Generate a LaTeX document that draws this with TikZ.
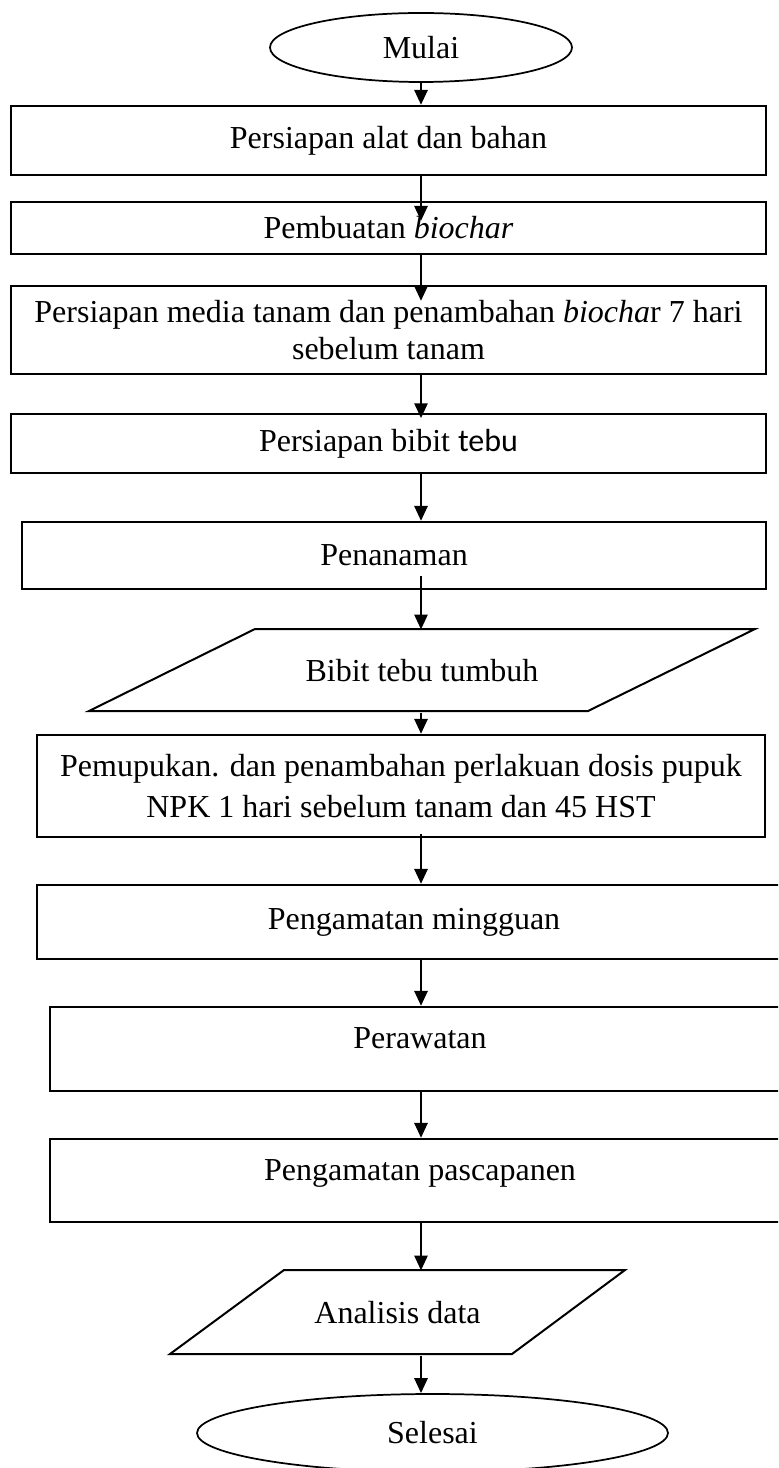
\documentclass[tikz,border=0pt]{standalone}
\usepackage{fontspec}
\setmainfont{Liberation Serif}
\newfontfamily\carl{Carlito}
\usetikzlibrary{arrows.meta,shapes.geometric}
\begin{document}
\begin{tikzpicture}[x=0.375pt,y=-0.375pt,
  txt/.style={font=\fontsize{12}{14}\selectfont},
  box/.style={draw,line width=0.85pt,rectangle,inner sep=0pt,align=center,txt},
  ell/.style={draw,line width=0.65pt,ellipse,inner sep=0pt,txt},
  para/.style={inner sep=0pt,txt},
  pline/.style={draw,line width=0.75pt,line join=miter},
  arr/.style={line width=0.95pt,-{Triangle[width=4.9pt,length=5.6pt]}}]
\useasboundingbox (0,0) rectangle (778,1468);
\clip (0,0) rectangle (778,1468);
% cut-off line of body text at the top (only its lowest part shows)
\node[anchor=base west,inner sep=0pt,txt] (toptext) at (100,-10) {\llap{pelaksanaan }penelitian dapat dilihat pada Gambar 3 sebagai berikut};
% start / end
\node[ell,minimum width=302*0.375pt,minimum height=69*0.375pt] (m) at (421,47.5) {Mulai};
% process boxes
\node[box,minimum width=755*0.375pt,minimum height=69*0.375pt] (b1) at (388.5,140.5) {Persiapan alat dan bahan};
\node[box,minimum width=755*0.375pt,minimum height=52*0.375pt] (b2) at (388.5,228) {Pembuatan \textit{biochar}};
\node[box,minimum width=755*0.375pt,minimum height=88*0.375pt,font=\fontsize{12}{14.2}\selectfont] (b3) at (388.5,330) {Persiapan media tanam dan penambahan \textit{biocha}r 7 hari\\sebelum tanam};
\node[box,minimum width=755*0.375pt,minimum height=59*0.375pt] (b4) at (388.5,443.5) {Persiapan bibit {\carl tebu}};
\node[box,minimum width=744*0.375pt,minimum height=67*0.375pt] (b5) at (394,555.5) {Penanaman};
\node[para,minimum width=666*0.375pt,minimum height=82*0.375pt] (p1) at (422,671) {Bibit tebu tumbuh};
\draw[pline] (255,629) -- (755,629) -- (588,711) -- (89,711) -- cycle;
\node[box,minimum width=728*0.375pt,minimum height=102*0.375pt,font=\fontsize{12}{15.4}\selectfont] (b6) at (401,786) {Pemupukan. dan penambahan perlakuan dosis pupuk\\NPK 1 hari sebelum tanam dan 45 HST};
\node[box,minimum width=754*0.375pt,minimum height=74*0.375pt] (b7) at (414,922) {Pengamatan mingguan};
\node[box,minimum width=740*0.375pt,minimum height=84*0.375pt,text depth=8.25pt] (b8) at (420,1049) {Perawatan};
\node[box,minimum width=740*0.375pt,minimum height=83*0.375pt,text depth=8pt] (b9) at (420,1180.5) {Pengamatan pascapanen};
\node[para,minimum width=455*0.375pt,minimum height=84*0.375pt] (p2) at (397.5,1313) {Analisis data};
\draw[pline] (284,1270) -- (625,1270) -- (512,1354) -- (170,1354) -- cycle;
\node[ell,minimum width=471*0.375pt,minimum height=78*0.375pt] (e2) at (432.5,1433) {Selesai};
% connectors
\draw[arr] (m.south) -- (b1.north -| m.south);
\draw[arr,shorten >=-7.5pt] (b1.south -| m.south) -- (b2.north -| m.south);
\draw[arr,shorten >=-6pt] (b2.south -| m.south) -- (b3.north -| m.south);
\draw[arr,shorten >=-2pt] (b3.south -| m.south) -- (b4.north -| m.south);
\draw[arr] (b4.south -| m.south) -- (b5.north -| m.south);
\draw[arr,shorten <=-5.25pt] (b5.south -| m.south) -- (p1.north -| m.south);
\draw[arr] (p1.south -| m.south) -- (b6.north -| m.south);
\draw[arr,shorten <=-1.5pt] (b6.south -| m.south) -- (b7.north -| m.south);
\draw[arr] (b7.south -| m.south) -- (b8.north -| m.south);
\draw[arr] (b8.south -| m.south) -- (b9.north -| m.south);
\draw[arr] (b9.south -| m.south) -- (p2.north -| m.south);
\draw[arr] (p2.south -| m.south) -- (e2.north -| m.south);
\end{tikzpicture}
\end{document}
